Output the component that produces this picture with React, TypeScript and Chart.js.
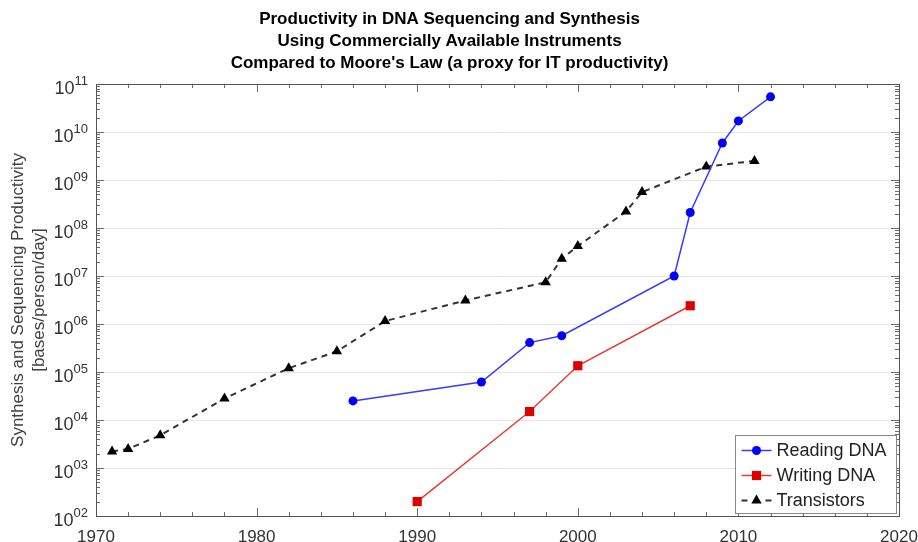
import React, { useEffect, useRef } from 'react';
import { Chart, registerables } from 'chart.js';

Chart.register(...registerables);

const titleLines = [
  'Productivity in DNA Sequencing and Synthesis',
  'Using Commercially Available Instruments',
  "Compared to Moore's Law (a proxy for IT productivity)",
];
const yAxisTitle = ['Synthesis and Sequencing Productivity', '[bases/person/day]'];

const readingYears = [1986, 1994, 1997, 1999, 2006, 2007, 2009, 2010, 2012];
const readingValues = [2.5e4, 6.2e4, 4.1e5, 5.7e5, 1.0e7, 2.1e8, 5.9e9, 1.7e10, 5.4e10];

const writingYears = [1990, 1997, 2000, 2007];
const writingValues = [2.0e2, 1.5e4, 1.35e5, 2.4e6];

const transistorYears = [1971, 1972, 1974, 1978, 1982, 1985, 1988, 1993, 1998, 1999, 2000, 2003, 2004, 2008, 2011];
const transistorValues = [2.2e3, 2.5e3, 4.8e3, 2.8e4, 1.2e5, 2.7e5, 1.15e6, 3.1e6, 7.4e6, 2.3e7, 4.2e7, 2.2e8, 5.6e8, 1.9e9, 2.5e9];

const seriesNames = ['Reading DNA', 'Writing DNA', 'Transistors'];

const xTickLabels = [1970, 1980, 1990, 2000, 2010, 2020];
const yTickExponents = ['02', '03', '04', '05', '06', '07', '08', '09', '10', '11'];

const FONT = "'Liberation Sans', Arial, sans-serif";

function drawMarker(ctx: CanvasRenderingContext2D, style: string, x: number, y: number, r: number, color: string) {
  ctx.save();
  ctx.fillStyle = color;
  ctx.setLineDash([]);
  ctx.beginPath();
  if (style === 'circle') {
    ctx.arc(x, y, r, 0, Math.PI * 2);
  } else if (style === 'rect') {
    const s = r * Math.SQRT1_2;
    ctx.rect(x - s, y - s, 2 * s, 2 * s);
  } else {
    for (let i = 0; i < 3; i++) {
      const a = (i * 2 * Math.PI) / 3;
      const px = x + Math.sin(a) * r;
      const py = y - Math.cos(a) * r;
      if (i === 0) ctx.moveTo(px, py);
      else ctx.lineTo(px, py);
    }
    ctx.closePath();
  }
  ctx.fill();
  ctx.restore();
}

const decorPlugin = {
  id: 'decor',
  afterDraw(chart: any) {
    const { ctx, chartArea, scales } = chart;
    const { left, right, top, bottom } = chartArea;
    const xs = scales.x;
    const ys = scales.y;
    ctx.save();

    // minor log ticks (left & right, inward)
    ctx.strokeStyle = '#6a6a6a';
    ctx.lineWidth = 1;
    ctx.beginPath();
    for (let e = 2; e <= 11; e++) {
      for (let k = 1; k <= 9; k++) {
        const v = k * Math.pow(10, e);
        if (v > 1e11 + 1) continue;
        const py = Math.round(ys.getPixelForValue(v)) + 0.5;
        const len = k === 1 ? 8 : 4;
        ctx.moveTo(left, py);
        ctx.lineTo(left + len, py);
        ctx.moveTo(right, py);
        ctx.lineTo(right - len, py);
      }
    }
    // x ticks every 2 years (top & bottom, inward)
    const x0 = xTickLabels[0];
    const x1 = xTickLabels[xTickLabels.length - 1];
    for (let yr = x0; yr <= x1; yr += 2) {
      const px = Math.round(xs.getPixelForValue(yr)) + 0.5;
      const len = (yr - x0) % 10 === 0 ? 8 : 4;
      ctx.moveTo(px, bottom);
      ctx.lineTo(px, bottom - len);
      ctx.moveTo(px, top);
      ctx.lineTo(px, top + len);
    }
    ctx.stroke();

    // plot box
    ctx.strokeStyle = '#555';
    ctx.strokeRect(Math.round(left) + 0.5, Math.round(top) + 0.5, Math.round(right - left), Math.round(bottom - top));

    // y tick labels 10^xx
    ctx.fillStyle = '#333';
    ctx.textBaseline = 'middle';
    for (const ex of yTickExponents) {
      const py = ys.getPixelForValue(Math.pow(10, Number(ex)));
      ctx.font = `13px ${FONT}`;
      const ew = ctx.measureText(ex).width;
      const xr = left - 8;
      ctx.textAlign = 'right';
      ctx.fillText(ex, xr, py - 3);
      ctx.font = `18px ${FONT}`;
      ctx.fillText('10', xr - ew, py + 5);
    }

    // legend
    const bx = Math.round(right) - 164 + 0.5;
    const by = Math.round(bottom) - 81 + 0.5;
    const bw = 161;
    const bh = 78;
    ctx.fillStyle = '#fff';
    ctx.fillRect(bx, by, bw, bh);
    ctx.strokeStyle = '#888';
    ctx.lineWidth = 1;
    ctx.setLineDash([]);
    ctx.strokeRect(bx, by, bw, bh);
    chart.data.datasets.forEach((ds: any, i: number) => {
      const cy = by + 15 + i * 25;
      const lx0 = bx + 6;
      const lx1 = bx + 36;
      ctx.save();
      ctx.strokeStyle = ds.borderColor;
      ctx.lineWidth = ds.borderWidth;
      if (ds.borderDash && ds.borderDash.length) ctx.setLineDash([6, 18]);
      ctx.beginPath();
      ctx.moveTo(lx0, cy);
      ctx.lineTo(lx1, cy);
      ctx.stroke();
      ctx.restore();
      drawMarker(ctx, ds.pointStyle, (lx0 + lx1) / 2, cy, ds.pointRadius, ds.pointBackgroundColor);
      ctx.fillStyle = '#222';
      ctx.font = `18px ${FONT}`;
      ctx.textAlign = 'left';
      ctx.textBaseline = 'middle';
      ctx.fillText(ds.label, bx + 41, cy + 1);
    });
    ctx.restore();
  },
};

export default function App() {
  const ref = useRef<HTMLCanvasElement>(null);

  useEffect(() => {
    if (!ref.current) return;
    const toPts = (xs: number[], ys: number[]) => xs.map((x, i) => ({ x, y: ys[i] }));
    const chart = new Chart(ref.current, {
      type: 'line',
      data: {
        datasets: [
          {
            label: seriesNames[0],
            data: toPts(readingYears, readingValues),
            borderColor: '#3a3aff',
            borderWidth: 1.5,
            pointStyle: 'circle',
            pointRadius: 4.5,
            pointBackgroundColor: '#0000ff',
            pointBorderColor: '#0000ff',
            pointBorderWidth: 0,
          },
          {
            label: seriesNames[1],
            data: toPts(writingYears, writingValues),
            borderColor: '#e83a3a',
            borderWidth: 1.5,
            pointStyle: 'rect',
            pointRadius: 6.5,
            pointBackgroundColor: '#dd0000',
            pointBorderColor: '#dd0000',
            pointBorderWidth: 0,
          },
          {
            label: seriesNames[2],
            data: toPts(transistorYears, transistorValues),
            borderColor: '#333333',
            borderWidth: 2,
            borderDash: [6, 5],
            pointStyle: 'triangle',
            pointRadius: 6,
            pointBackgroundColor: '#000000',
            pointBorderColor: '#000000',
            pointBorderWidth: 0,
          },
        ] as any,
      },
      options: {
        animation: false,
        responsive: false,
        events: [],
        layout: { padding: { left: 0, right: 19, top: 0, bottom: 0 } },
        font: { family: FONT } as any,
        plugins: {
          legend: { display: false },
          tooltip: { enabled: false },
          title: {
            display: true,
            text: titleLines,
            color: '#000',
            font: { family: FONT, size: 17, weight: 'bold', lineHeight: 22 / 17 },
            padding: { top: 8, bottom: 10 },
          },
        },
        scales: {
          x: {
            type: 'linear',
            min: xTickLabels[0],
            max: xTickLabels[xTickLabels.length - 1],
            afterBuildTicks: (s: any) => {
              s.ticks = xTickLabels.map((v) => ({ value: v }));
            },
            afterFit: (s: any) => {
              s.height = 26;
              s.paddingLeft = 0;
              s.paddingRight = 0;
            },
            grid: { display: false, drawTicks: false },
            border: { display: false },
            ticks: {
              color: '#333',
              font: { family: FONT, size: 17 },
              padding: 11,
              maxRotation: 0,
              autoSkip: false,
              callback: (v: any) => String(v),
            },
          },
          y: {
            type: 'logarithmic',
            min: 1e2,
            max: 1e11,
            afterBuildTicks: (s: any) => {
              s.ticks = yTickExponents.map((e) => ({ value: Math.pow(10, Number(e)) }));
            },
            afterFit: (s: any) => {
              s.width = 96;
              s.paddingTop = 0;
              s.paddingBottom = 0;
            },
            grid: { color: '#e6e6e6', lineWidth: 1, drawTicks: false },
            border: { display: false },
            ticks: { display: false },
            title: {
              display: true,
              text: yAxisTitle,
              color: '#404040',
              font: { family: FONT, size: 17, lineHeight: 21 / 17 },
              padding: { top: 7.5, bottom: 0 },
            },
          },
        },
      } as any,
      plugins: [decorPlugin],
    });
    return () => chart.destroy();
  }, []);

  return (
    <div style={{ position: 'absolute', left: 0, top: 0, width: 918, height: 542, background: '#fff' }}>
      <canvas ref={ref} width={918} height={542} style={{ display: 'block', width: 918, height: 542 }} />
    </div>
  );
}
